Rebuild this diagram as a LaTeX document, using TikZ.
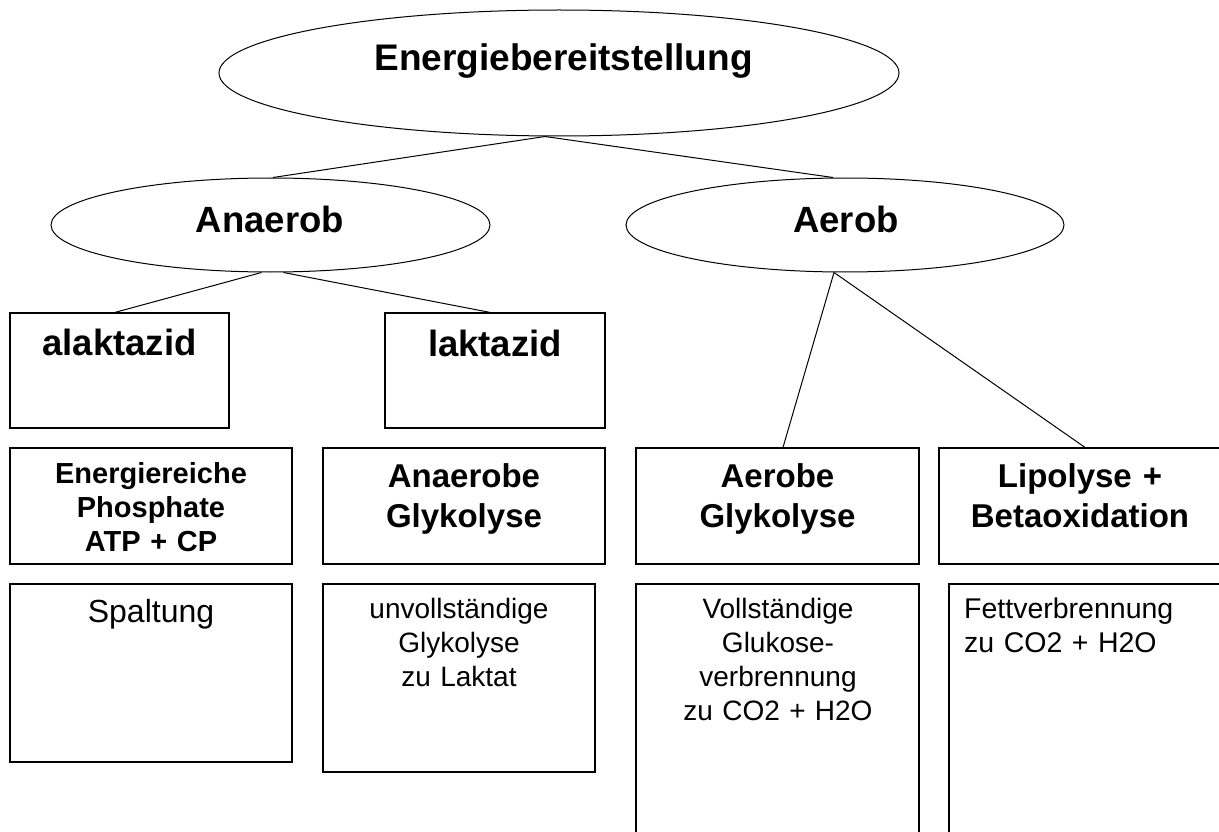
\documentclass[tikz,border=0pt]{standalone}
\usepackage{fontspec}
\setmainfont{Liberation Sans}
\usetikzlibrary{shapes.geometric,calc}
\tikzset{
  box/.style={draw, line width=1.2pt, rectangle, inner sep=0pt},
  oval/.style={draw, line width=1pt, ellipse, inner sep=0pt},
  link/.style={line width=1pt},
  lbl/.style={anchor=base, inner sep=0pt, text width=700pt, align=center},
  bigbold/.style={font=\fontsize{36.5}{44}\selectfont\bfseries},
  headbold/.style={font=\fontsize{33}{40}\selectfont\bfseries},
  smallbold/.style={font=\fontsize{29}{34}\selectfont\bfseries},
  txtbody/.style={font=\fontsize{28}{34}\selectfont},
}
\begin{document}
\begin{tikzpicture}[x=1pt, y=-1pt]
  \useasboundingbox (0,0) rectangle (1219,832);
  \fill[white] (0,0) rectangle (1219,832);
  \clip (0,0) rectangle (1219,832);

  % ovals
  \node[oval, minimum width=680, minimum height=126] (top) at (559,73) {};
  \node[lbl, font=\fontsize{37}{44}\selectfont\bfseries] (toptxt) at (563.5,71) {Energiebereitstellung};
  \node[oval, minimum width=439, minimum height=94] (ana) at (270.5,225) {};
  \node[lbl, bigbold] (anatxt) at (270,233) {Anaerob};
  \node[oval, minimum width=438, minimum height=94] (aer) at (845,225) {};
  \node[lbl, bigbold] (aertxt) at (846,233) {Aerob};

  % second level boxes
  \node[box, minimum width=219, minimum height=115] (alak) at (119.5,370.5) {};
  \node[lbl, bigbold] (alaktxt) at (119.5,355) {alaktazid};
  \node[box, minimum width=220, minimum height=115] (lak) at (495,370.5) {};
  \node[lbl, bigbold] (laktxt) at (495,356) {laktazid};

  % process boxes
  \node[box, minimum width=282, minimum height=116] (b1) at (151,506) {};
  \node[box, minimum width=282, minimum height=116] (b2) at (464,506) {};
  \node[box, minimum width=283, minimum height=116] (b3) at (777.5,506) {};
  \node[box, minimum width=284, minimum height=116] (b4) at (1081,506) {};
  \node[lbl, smallbold] (b1txt) at (151,483) {Energiereiche\\Phosphate\\ATP + CP};
  \node[lbl, headbold] (b2txt) at (464,487) {Anaerobe\\Glykolyse};
  \node[lbl, headbold] (b3txt) at (777.5,487) {Aerobe\\Glykolyse};
  \node[lbl, headbold] (b4txt) at (1080,487) {Lipolyse +\\Betaoxidation};

  % description boxes
  \node[box, minimum width=282, minimum height=178] (c1) at (151,673) {};
  \node[box, minimum width=272, minimum height=188] (c2) at (459,678) {};
  \node[box, minimum width=283, minimum height=266] (c3) at (777.5,717) {};
  \node[box, minimum width=274, minimum height=266] (c4) at (1086,717) {};
  \node[lbl, font=\fontsize{32}{38}\selectfont] (c1txt) at (151,622) {Spaltung};
  \node[lbl, txtbody] (c2txt) at (459,618.5) {unvollständige\\Glykolyse\\zu Laktat};
  \node[lbl, txtbody] (c3txt) at (778,618.5) {Vollständige\\Glukose-\\verbrennung\\zu CO2 + H2O};
  \node[lbl, font=\fontsize{28.5}{34}\selectfont, anchor=base west, text width=250pt, align=left] (c4txt) at (964,618.5) {Fettverbrennung\\zu CO2 + H2O};

  % connectors
  \draw[link] ($(top.south)+(-14,0)$) -- ($(ana.north)+(2.5,0)$);
  \draw[link] ($(top.south)+(-14,0)$) -- ($(aer.north)+(-12,0)$);
  \draw[link] ($(ana.south)+(-9,0)$) -- ($(alak.north)+(-4.5,0)$);
  \draw[link] ($(ana.south)+(13,0)$) -- ($(lak.north)+(-5,0)$);
  \draw[link] ($(aer.south)+(-11,0)$) -- ($(b3.north)+(5.5,0)$);
  \draw[link] ($(aer.south)+(-11,0)$) -- ($(b4.north)+(4,0)$);
\end{tikzpicture}
\end{document}
